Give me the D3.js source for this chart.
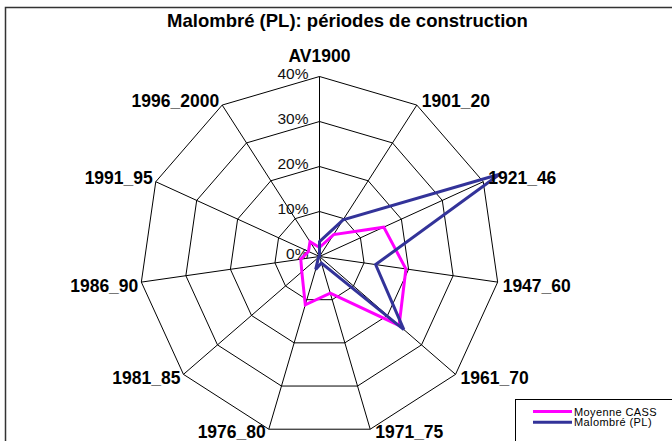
<!DOCTYPE html>
<html>
<head>
<meta charset="utf-8">
<script src="https://d3js.org/d3.v7.min.js"></script>
<style>
  body { margin: 0; background: #fff; }
  svg { display: block; }
</style>
</head>
<body>
<svg id="chart" width="672" height="441"></svg>
<script>

// categories (clockwise from the top)
var periods = ["AV1900", "1901_20", "1921_46", "1947_60", "1961_70", "1971_75",
  "1976_80", "1981_85", "1986_90", "1991_95", "1996_2000"];

// series values in %
var moyenneCASS = [2.0, 5.8, 15.7, 19.4, 23.4, 8.5, 11.2, 5.2, 4.2, 2.7, 3.9];
var malombre    = [3.3, 9.7, 44.0, 12.6, 24.8, 1.5, 3.0, 0.3, 0, 0, 0];

var ticks = [0, 10, 20, 30, 40];
var tickLabels = ["0%", "10%", "20%", "30%", "40%"];

var seriesNames = ["Moyenne CASS", "Malombré (PL)"];
var colors = ["#ff00ff", "#333399"];

var svg = d3.select("#chart");

// chart area frame
svg.append("rect")
  .attr("x", 5.5).attr("y", 7.5)
  .attr("width", 700).attr("height", 460)
  .attr("fill", "none")
  .attr("stroke", "#333")
  .attr("stroke-width", 1.5);

// title
svg.append("text")
  .attr("x", 347.5).attr("y", 27)
  .attr("text-anchor", "middle")
  .style("font-family", "Liberation Sans, Arial, sans-serif")
  .style("font-weight", "bold")
  .style("font-size", "18.5px")
  .text("Malombré (PL): périodes de construction");

var cx = 319.5, cy = 256.5;
var r = d3.scaleLinear().domain([0, 40]).range([0, 180]);
var n = periods.length;
var angle = function(i) { return i * 2 * Math.PI / n; };
var px = function(i, v) { return cx + r(v) * Math.sin(angle(i)); };
var py = function(i, v) { return cy - r(v) * Math.cos(angle(i)); };

var g = svg.append("g");

// rings
ticks.slice(1).forEach(function(t) {
  var pts = periods.map(function(p, i) { return [px(i, t), py(i, t)]; });
  g.append("polygon")
    .attr("points", pts.map(function(d) { return d.join(","); }).join(" "))
    .attr("fill", "none")
    .attr("stroke", "#000")
    .attr("stroke-width", 1);
});

// spokes
periods.forEach(function(p, i) {
  g.append("line")
    .attr("x1", cx).attr("y1", cy)
    .attr("x2", px(i, 40)).attr("y2", py(i, 40))
    .attr("stroke", "#000")
    .attr("stroke-width", 1);
});

// tick labels
g.selectAll(".tick")
  .data(ticks)
  .enter()
  .append("text")
    .attr("x", cx - 11)
    .attr("y", function(d) { return cy - r(d) + 2; })
    .attr("text-anchor", "end")
    .style("font-family", "Liberation Sans, Arial, sans-serif")
    .style("font-size", "15.5px")
    .style("fill", "#111")
    .text(function(d, i) { return tickLabels[i]; });

// category labels
periods.forEach(function(p, i) {
  var s = Math.sin(angle(i)), c = Math.cos(angle(i));
  var x = px(i, 40), y = py(i, 40);
  var anchor = "middle";
  if (s > 0.1) { anchor = "start"; x += 5; }
  else if (s < -0.1) { anchor = "end"; x -= 3; }
  if (i == 0) y -= 15;
  else if (c > 0) y += 2;
  else y += (c < -0.9 ? 9 : 10);
  svg.append("text")
    .attr("x", x).attr("y", y)
    .attr("text-anchor", anchor)
    .style("font-family", "Liberation Sans, Arial, sans-serif")
    .style("font-weight", "bold")
    .style("font-size", "17.5px")
    .text(p);
});

// series
var line = d3.lineRadial()
  .angle(function(d, i) { return angle(i); })
  .radius(function(d) { return r(d); })
  .curve(d3.curveLinearClosed);

[moyenneCASS, malombre].forEach(function(vals, k) {
  g.append("path")
    .attr("transform", "translate(" + cx + "," + cy + ")")
    .attr("d", line(vals))
    .attr("fill", "none")
    .attr("stroke", colors[k])
    .attr("stroke-width", 3)
    .attr("stroke-linejoin", "miter");
});

// legend
var lg = svg.append("g");
lg.append("rect")
  .attr("x", 515.5).attr("y", 399.5)
  .attr("width", 170).attr("height", 60)
  .attr("fill", "#fff")
  .attr("stroke", "#000")
  .attr("stroke-width", 1);
seriesNames.forEach(function(name, k) {
  var yy = 411.5 + k * 10.7;
  lg.append("line")
    .attr("x1", 533).attr("x2", 572)
    .attr("y1", yy).attr("y2", yy)
    .attr("stroke", colors[k])
    .attr("stroke-width", 3);
  lg.append("text")
    .attr("x", 574).attr("y", yy + 4)
    .style("font-family", "Liberation Sans, Arial, sans-serif")
    .style("font-size", "11px")
    .style("letter-spacing", "0.4px")
    .text(name);
});

</script>
</body>
</html>
